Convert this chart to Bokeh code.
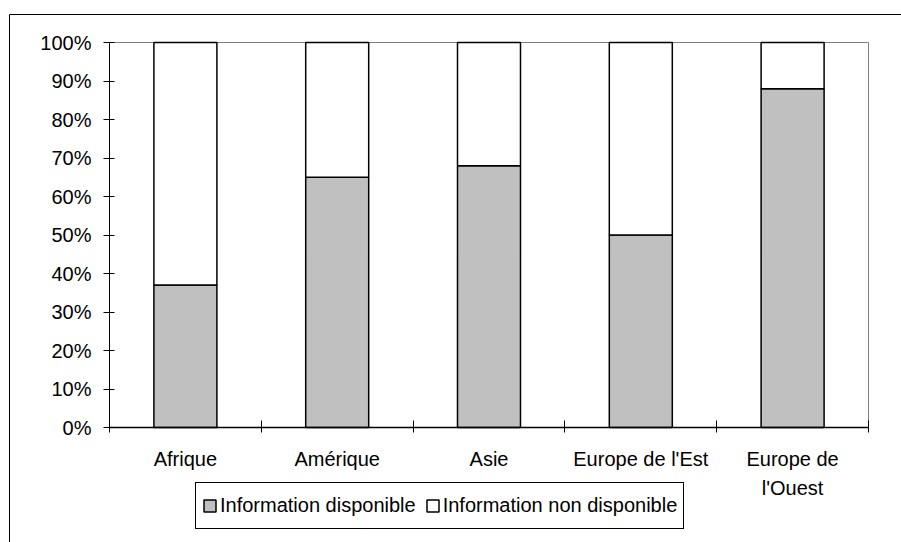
from bokeh.plotting import figure
from bokeh.models import (Range1d, LinearAxis, FixedTicker,
                          NumeralTickFormatter, Legend, LegendItem, BoxAnnotation, ColumnDataSource)
from bokeh.embed import file_html
from bokeh.resources import INLINE

categories = ["Afrique", "Amérique", "Asie", "Europe de l'Est", "Europe de l'Ouest"]
category_labels = ["Afrique", "Amérique", "Asie", "Europe de l'Est", "Europe de\nl'Ouest"]
disponible = [0.37, 0.65, 0.68, 0.50, 0.88]
non_disponible = [0.63, 0.35, 0.32, 0.50, 0.12]
series_names = ["Information disponible", "Information non disponible"]
y_ticks = [0.0, 0.1, 0.2, 0.3, 0.4, 0.5, 0.6, 0.7, 0.8, 0.9, 1.0]

n = len(categories)
centers = [i + 0.5 for i in range(n)]
boundaries = list(range(n + 1))

FONT = "Liberation Sans"
FS = "20px"

# page geometry (pixels): the frame covers the whole chart box, the plot area sits inside it
W, H = 901, 542
FL, FT = 8, 13            # frame left / top
PL, PR, PT, PB = 109, 868, 42, 427   # plot area edges
xs = (PR - PL) / n
ys = (PB - PT) / 1.0
x_start = -(PL - FL) / xs
x_end = n + (W - PR) / xs
y_end = 1 + (PT - FT) / ys
y_start = -(H - PB) / ys

source = ColumnDataSource(dict(x=centers, cat=categories, dispo=disponible, non=non_disponible))

p = figure(x_range=Range1d(x_start, x_end), y_range=Range1d(y_start, y_end),
           width=W, height=H, output_backend="svg", toolbar_location=None,
           x_axis_location=None, y_axis_location=None,
           min_border_left=FL, min_border_right=0, min_border_top=FT, min_border_bottom=0)
p.xgrid.visible = False
p.ygrid.visible = False
p.background_fill_color = "white"
p.border_fill_color = "white"
p.outline_line_color = None

plot_area = BoxAnnotation(left=0, right=n, bottom=0, top=1, level="underlay",
                          fill_color=None, fill_alpha=0, line_color="#808080",
                          line_alpha=1, line_width=1)
p.add_layout(plot_area)

renderers = p.vbar_stack(["dispo", "non"], x="x", width=0.415, source=source,
                         fill_color=["#C0C0C0", "white"], line_color="black", line_width=1.5)

yaxis = LinearAxis(ticker=FixedTicker(ticks=y_ticks), formatter=NumeralTickFormatter(format="0%"),
                   fixed_location=0, bounds=(0, 1),
                   major_tick_in=5, major_tick_out=6, minor_tick_in=0, minor_tick_out=0,
                   major_label_standoff=12, axis_line_color="black", major_tick_line_color="black",
                   major_label_text_font=FONT, major_label_text_font_size=FS,
                   major_label_text_color="black")
p.add_layout(yaxis, "left")

tick_axis = LinearAxis(ticker=FixedTicker(ticks=boundaries), fixed_location=0, bounds=(0, n),
                       major_tick_in=7, major_tick_out=5, minor_tick_in=0, minor_tick_out=0,
                       major_label_text_font_size="0px", major_label_standoff=0,
                       major_label_overrides={b: "" for b in boundaries},
                       axis_line_color="black", axis_line_width=1.5, major_tick_line_color="black")
p.add_layout(tick_axis, "below")

cat_axis = LinearAxis(ticker=FixedTicker(ticks=centers), fixed_location=0, bounds=(0, n),
                      major_tick_line_color=None, axis_line_color=None,
                      major_tick_out=0, major_tick_in=0, minor_tick_in=0, minor_tick_out=0,
                      major_label_standoff=20,
                      major_label_overrides=dict(zip(centers, category_labels)),
                      major_label_text_font=FONT, major_label_text_font_size=FS,
                      major_label_text_color="black", major_label_text_line_height=1.35)
p.add_layout(cat_axis, "below")

legend = Legend(items=[LegendItem(label=series_names[0], renderers=[renderers[0]]),
                       LegendItem(label=series_names[1], renderers=[renderers[1]])],
                orientation="horizontal", location=(195 - FL, H - 529),
                border_line_color="black", border_line_width=1, border_line_alpha=1,
                background_fill_color="white", background_fill_alpha=1,
                padding=6, spacing=9, label_standoff=3,
                glyph_width=15, glyph_height=15, label_height=33, margin=0,
                label_text_font=FONT, label_text_font_size=FS, label_text_color="black")
p.add_layout(legend)

chart_box = BoxAnnotation(left=9, right=2000, top=14, bottom=2000,
                          left_units="canvas", right_units="canvas",
                          top_units="canvas", bottom_units="canvas",
                          fill_color=None, fill_alpha=0, line_color="black",
                          line_alpha=1, line_width=1)
p.add_layout(chart_box)

open("out.html", "w").write(file_html(p, INLINE))
